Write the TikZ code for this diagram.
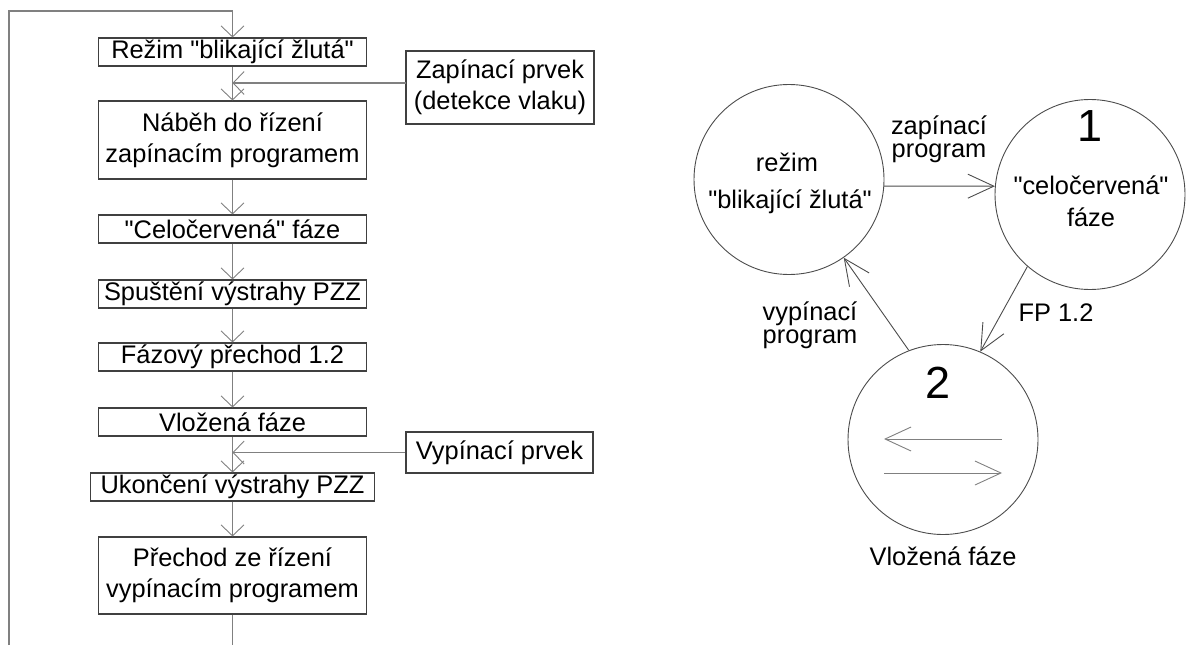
\documentclass[tikz,border=0pt]{standalone}
\usepackage{fontspec}
% plain straight quotes: no TeX input mapping
\setmainfont{Liberation Sans}[Ligatures=TeXOff]
\usetikzlibrary{arrows.meta}
\begin{document}
\begin{tikzpicture}[x=1pt,y=-1pt,
  txt/.style={font=\fontsize{25.4}{31}\selectfont, text=black, inner sep=0pt},
  flowbox/.style={txt, draw=black!75, line width=1.1pt, minimum width=268pt, minimum height=28pt, align=center},
  state/.style={circle, draw=black!70, line width=0.9pt, minimum size=190pt, inner sep=0pt},
  link/.style={draw=black!50, line width=1.1pt},
  barb/.style={-{Straight Barb[length=11pt,width=23pt,line width=0.9pt]}},
  bigbarb/.style={-{Straight Barb[length=26pt,width=24pt,line width=0.9pt]}},
  tight/.style={txt, font=\fontsize{25.4}{23}\selectfont, align=center},
  digit/.style={txt, font=\fontsize{45}{50}\selectfont}
]
\useasboundingbox (0,0) rectangle (1190,645);

% flow of the control program
\node[flowbox] (b1) at (232.5,52) {Režim "blikající žlutá"};
\node[flowbox, minimum height=78pt] (b2) at (232.5,140) {Náběh do řízení\\zapínacím programem};
\node[flowbox] (b3) at (232.5,229) {"Celočervená" fáze};
\node[flowbox] (b4) at (232.5,294) {Spuštění výstrahy PZZ};
\node[flowbox] (b5) at (232.5,357) {Fázový přechod 1.2};
\node[flowbox] (b6) at (232.5,422) {Vložená fáze};
\node[flowbox, minimum width=284pt] (b7) at (232.5,487) {Ukončení výstrahy PZZ};
\node[flowbox, minimum height=77pt] (b8) at (232.5,575.5) {Přechod ze řízení\\vypínacím programem};

\node[flowbox, minimum width=188pt, minimum height=73pt] (zp) at (500,87.5) {Zapínací prvek\\(detekce vlaku)};
\node[flowbox, minimum width=187pt, minimum height=41pt] (vp) at (499.5,452.5) {Vypínací prvek};

% loop back from the end to the start
\coordinate (top) at (232.5,11);
\coordinate (topL) at (9,11);
\coordinate (botL) at (9,645);
\coordinate (bot) at (232.5,645);
\coordinate (j1) at (232.5,83);
\coordinate (zin) at (406,83);

\draw[link] (botL) -- (topL) -- (top);
\draw[link, barb] (top) -- (b1.north);
\draw[link, barb] (b1.south) -- (b2.north);
\draw[link, barb] (zin) -- (j1);
\draw[link, barb] (b2.south) -- (b3.north);
\draw[link, barb] (b3.south) -- (b4.north);
\draw[link, barb] (b4.south) -- (b5.north);
\draw[link, barb] (b5.south) -- (b6.north);
\draw[link, barb] (b6.south) -- (b7.north);
\draw[link, barb] (vp.west) -- (vp.west -| b7.north);
\draw[link, barb] (b7.south) -- (b8.north);
\draw[link] (b8.south) -- (bot);

% state diagram
\node[state] (sA) at (789,179.5) {};
\node[state] (sB) at (1090,194.5) {};
\node[state] (sC) at (943,439.5) {};

\node[txt] (tA1) at (787,162) {režim};
\node[txt] (tA2) at (790,202) {"blikající žlutá"};
\node[digit] (nB) at (1090,126) {1};
\node[txt] (tB1) at (1091,185) {"celočervená"};
\node[txt] (tB2) at (1091,217) {fáze};
\node[digit] (nC) at (938,383) {2};
\node[txt] (tC) at (943,556) {Vložená fáze};

\coordinate (l1) at (1002,439);
\coordinate (l2) at (884,439);
\coordinate (r1) at (884,473);
\coordinate (r2) at (1002,473);
\draw[draw=black!50, line width=0.9pt, bigbarb] (l1) -- (l2);
\draw[draw=black!50, line width=0.9pt, bigbarb] (r1) -- (r2);

\draw[draw=black!70, line width=0.9pt, bigbarb] (sA.-4.5) -- (sB.175.5);
\draw[draw=black!70, line width=0.9pt, bigbarb] (sB.229) -- (sC.67.5);
\draw[draw=black!70, line width=0.9pt, bigbarb] (sC.111.5) -- (sA.-55);

\node[tight] (lz) at (939,139) {zapínací\\program};
\node[tight] (lv) at (810,325) {vypínací\\program};
\node[txt] (lf) at (1056,313) {FP 1.2};
\end{tikzpicture}
\end{document}
